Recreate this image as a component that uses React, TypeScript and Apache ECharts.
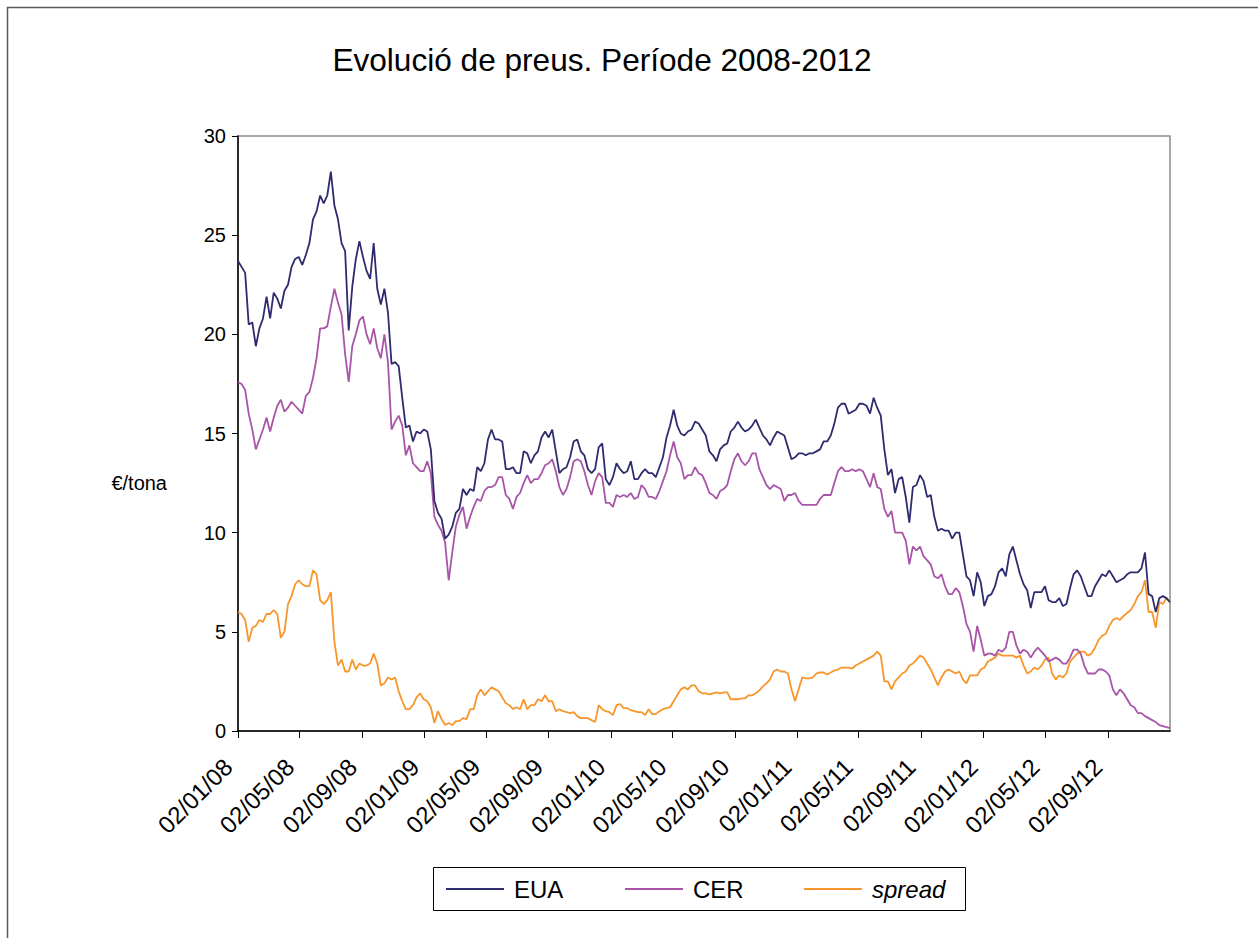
import React, { useEffect, useRef } from 'react';
import * as echarts from 'echarts';

// ---------- data ----------
const title = 'Evolució de preus. Període 2008-2012';
const yAxisName = '€/tona';
const seriesNames = ['EUA', 'CER', 'spread'];
const startDate = '02/01/08';
const stepDays = 7; // one reading per week from the start date
const axisEndDate = '02/01/13';
const tickLabels = [
  '02/01/08', '02/05/08', '02/09/08', '02/01/09', '02/05/09', '02/09/09', '02/01/10', '02/05/10',
  '02/09/10', '02/01/11', '02/05/11', '02/09/11', '02/01/12', '02/05/12', '02/09/12',
];
const yTicks = [0, 5, 10, 15, 20, 25, 30];

const eua = [
  23.7, 23.4, 23.1, 20.5, 20.6, 19.4, 20.3, 20.8, 21.9, 20.8,
  22.1, 21.8, 21.3, 22.2, 22.5, 23.4, 23.8, 23.9, 23.5, 24.0,
  24.6, 25.8, 26.2, 27.0, 26.6, 27.0, 28.2, 26.5, 25.8, 24.6,
  24.2, 20.2, 22.4, 23.8, 24.7, 23.9, 23.2, 22.8, 24.6, 22.3,
  21.5, 22.3, 21.1, 18.5, 18.6, 18.4, 16.8, 15.3, 15.4, 14.6,
  15.1, 15.0, 15.2, 15.1, 14.2, 11.6, 11.0, 10.7, 9.7, 9.9,
  10.3, 11.0, 11.2, 12.2, 11.9, 12.2, 12.1, 13.3, 13.1, 13.5,
  14.7, 15.2, 14.7, 14.7, 14.6, 13.2, 13.2, 13.3, 13.0, 13.0,
  14.1, 14.0, 13.5, 13.9, 14.1, 14.8, 15.1, 14.8, 15.2, 14.1,
  13.0, 13.2, 13.3, 13.8, 14.6, 14.7, 14.1, 13.9, 13.2, 13.0,
  13.2, 14.3, 14.5, 12.7, 12.4, 12.8, 13.5, 13.2, 13.0, 13.1,
  13.6, 12.7, 12.7, 13.0, 13.2, 13.0, 13.0, 12.8, 13.3, 13.8,
  14.8, 15.4, 16.2, 15.4, 15.0, 14.9, 15.1, 15.2, 15.6, 15.5,
  15.2, 14.9, 14.1, 13.9, 13.6, 14.2, 14.4, 14.5, 15.1, 15.3,
  15.6, 15.3, 15.1, 15.2, 15.4, 15.7, 15.3, 14.9, 14.7, 14.4,
  14.8, 15.1, 15.0, 14.9, 14.3, 13.7, 13.8, 14.0, 14.0, 13.9,
  14.0, 14.0, 14.1, 14.2, 14.6, 14.6, 14.9, 15.5, 16.3, 16.5,
  16.5, 16.0, 16.1, 16.2, 16.5, 16.5, 16.4, 16.0, 16.8, 16.3,
  15.9, 14.2, 12.9, 13.2, 12.0, 12.7, 12.8, 11.8, 10.5, 12.3,
  12.4, 12.9, 12.6, 11.8, 11.9, 10.8, 10.1, 10.2, 10.1, 10.1,
  9.7, 10.0, 10.0, 8.9, 7.8, 7.6, 6.8, 8.0, 7.5, 6.3,
  6.8, 6.9, 7.3, 8.0, 8.2, 7.8, 8.9, 9.3, 8.6, 7.9,
  7.4, 7.1, 6.2, 7.0, 7.0, 7.0, 7.3, 6.6, 6.5, 6.5,
  6.7, 6.3, 6.4, 7.2, 7.9, 8.1, 7.8, 7.3, 6.8, 6.8,
  7.3, 7.6, 7.9, 7.8, 8.1, 7.8, 7.5, 7.6, 7.7, 7.9,
  8.0, 8.0, 8.0, 8.2, 9.0, 6.9, 6.8, 6.0, 6.7, 6.8,
  6.7, 6.5,
];

const cer = [
  17.6, 17.5, 17.2, 16.0, 15.2, 14.2, 14.7, 15.2, 15.8, 15.1,
  15.8, 16.4, 16.7, 16.1, 16.3, 16.6, 16.4, 16.2, 16.0, 16.9,
  17.1, 17.8, 18.8, 20.3, 20.3, 20.4, 21.4, 22.3, 21.6, 21.0,
  19.0, 17.6, 19.4, 20.0, 20.7, 20.9, 20.0, 19.5, 20.3, 19.3,
  18.8, 20.0, 18.6, 15.2, 15.6, 15.9, 15.4, 13.9, 14.4, 13.5,
  13.3, 13.1, 13.1, 13.6, 13.0, 10.8, 10.4, 10.1, 9.5, 7.6,
  9.0, 10.3, 10.9, 11.3, 10.2, 10.8, 11.3, 11.7, 11.6, 12.1,
  12.3, 12.3, 12.4, 12.8, 12.8, 11.9, 11.7, 11.2, 11.8, 12.0,
  12.5, 12.9, 12.5, 12.7, 12.7, 13.0, 13.4, 13.5, 13.7, 13.1,
  12.3, 11.9, 12.2, 12.8, 13.6, 13.7, 13.6, 13.1, 12.4, 11.9,
  12.6, 13.0, 12.8, 11.5, 11.5, 11.3, 11.9, 11.8, 11.9, 11.8,
  12.0, 11.7, 11.8, 12.4, 12.2, 11.8, 11.8, 11.7, 12.1, 12.6,
  13.1, 13.9, 14.6, 13.8, 13.5, 12.7, 12.9, 12.9, 13.3, 13.0,
  12.9, 12.5, 12.0, 11.9, 11.7, 12.1, 12.2, 12.4, 13.1, 13.7,
  14.0, 13.6, 13.4, 13.6, 14.0, 14.0, 13.2, 12.8, 12.4, 12.2,
  12.4, 12.3, 12.2, 11.6, 11.9, 11.9, 12.0, 11.6, 11.4, 11.4,
  11.4, 11.4, 11.4, 11.7, 11.9, 11.9, 11.9, 12.5, 13.1, 13.3,
  13.1, 13.1, 13.2, 13.1, 13.2, 13.1, 12.7, 12.3, 13.0, 12.3,
  12.2, 11.2, 10.8, 11.1, 10.0, 10.0, 10.0, 9.6, 8.4, 9.3,
  9.1, 9.3, 8.8, 8.6, 8.4, 7.8, 7.7, 7.9, 7.3, 6.9,
  6.9, 7.2, 7.0, 6.3, 5.4, 5.0, 4.0, 5.3, 4.6, 3.8,
  3.9, 3.9, 3.8, 4.1, 4.0, 4.2, 5.0, 5.0, 4.3, 3.9,
  4.1, 4.0, 3.7, 4.0, 4.2, 4.0, 3.8, 3.5, 3.6, 3.7,
  3.6, 3.4, 3.4, 3.7, 4.1, 4.1, 3.9, 3.3, 2.9, 2.9,
  2.9, 3.1, 3.1, 3.0, 2.8, 2.1, 1.8, 2.1, 1.9, 1.6,
  1.3, 1.2, 0.9, 0.9, 0.75, 0.65, 0.55, 0.45, 0.3, 0.25,
  0.2, 0.15,
];

const spread = [
  6.0, 5.9, 5.6, 4.5, 5.2, 5.3, 5.6, 5.5, 5.9, 5.9,
  6.1, 5.9, 4.7, 5.0, 6.4, 6.8, 7.4, 7.6, 7.4, 7.3,
  7.3, 8.1, 7.9, 6.6, 6.4, 6.6, 7.0, 4.5, 3.3, 3.6,
  3.0, 3.0, 3.6, 3.1, 3.4, 3.3, 3.3, 3.4, 3.9, 3.4,
  2.3, 2.4, 2.7, 2.6, 2.7, 2.0, 1.5, 1.1, 1.1, 1.3,
  1.7, 1.9, 1.6, 1.5, 1.2, 0.4, 1.0, 0.6, 0.3, 0.4,
  0.3, 0.5, 0.5, 0.65, 0.6, 1.1, 1.1, 1.8, 2.1, 1.8,
  2.0, 2.2, 2.1, 2.0, 1.7, 1.4, 1.3, 1.1, 1.2, 1.1,
  1.6, 1.1, 1.3, 1.3, 1.6, 1.5, 1.8, 1.5, 1.5, 1.0,
  1.1, 1.0, 0.95, 0.9, 0.95, 0.75, 0.65, 0.65, 0.65, 0.55,
  0.45, 1.3, 1.1, 1.0, 0.95, 0.8, 1.3, 1.35, 1.15, 1.15,
  1.05, 1.0, 0.95, 0.95, 0.8, 1.1, 0.85, 0.85, 1.0, 1.1,
  1.15, 1.2, 1.5, 1.8, 2.1, 2.2, 2.1, 2.3, 2.3, 2.0,
  1.9, 1.9, 1.85, 1.9, 1.95, 1.9, 1.95, 1.95, 1.6, 1.6,
  1.6, 1.65, 1.65, 1.8, 1.8, 1.9, 2.05, 2.25, 2.4, 2.6,
  3.0, 3.1, 3.0, 3.0, 2.9, 2.1, 1.5, 2.1, 2.7, 2.65,
  2.65, 2.7, 2.9, 2.95, 2.95, 2.85, 2.95, 3.05, 3.1, 3.2,
  3.2, 3.2, 3.15, 3.3, 3.4, 3.5, 3.6, 3.7, 3.8, 4.0,
  3.8, 2.5, 2.5, 2.1, 2.5, 2.7, 2.9, 3.0, 3.3, 3.4,
  3.6, 3.8, 3.7, 3.4, 3.1, 2.7, 2.3, 2.7, 3.0, 3.1,
  3.0, 2.9, 3.0, 2.6, 2.4, 2.8, 2.8, 2.8, 3.1, 3.2,
  3.5, 3.6, 3.7, 3.9, 3.8, 3.8, 3.8, 3.8, 3.7, 3.8,
  3.3, 2.9, 3.0, 3.2, 3.1, 3.3, 3.6, 3.7, 2.9, 2.6,
  2.8, 2.7, 2.9, 3.5, 3.7, 3.9, 4.0, 4.0, 3.8, 3.9,
  4.2, 4.6, 4.8, 4.9, 5.3, 5.6, 5.7, 5.6, 5.8, 5.95,
  6.1, 6.4, 6.8, 7.0, 7.6, 6.0, 6.0, 5.2, 6.5, 6.4,
  6.7, 6.5,
];

// ---------- helpers ----------
const DAY_MS = 86400000;
function parseDMY(s: string): number {
  const [d, m, y] = s.split('/').map(Number);
  return Date.UTC(2000 + y, m - 1, d);
}
const t0 = parseDMY(startDate);
const dayOffset = (s: string) => Math.round((parseDMY(s) - t0) / DAY_MS);
const tickDays = tickLabels.map(dayOffset);
const axisMaxDays = dayOffset(axisEndDate);
const toPairs = (vals: number[]) => vals.map((v, i) => [i * stepDays, v]);

const FONT = '"Liberation Sans", Arial, Helvetica, sans-serif';
const colors = ['#2E2B6E', '#A855A8', '#F7962A'];

export default function App() {
  const ref = useRef<HTMLDivElement>(null);

  useEffect(() => {
    if (!ref.current) return;
    const chart = echarts.init(ref.current, null, { renderer: 'svg' });

    const legendX = [446, 625, 804];
    const legendLineLen = 58;
    const legendY = 889;
    const legendGraphics: any[] = [
      {
        type: 'rect',
        shape: { x: 433.5, y: 867.5, width: 532, height: 43 },
        style: { fill: '#fff', stroke: '#000', lineWidth: 1 },
        z: 10,
      },
    ];
    seriesNames.forEach((name, k) => {
      legendGraphics.push({
        type: 'line',
        shape: { x1: legendX[k], y1: legendY, x2: legendX[k] + legendLineLen, y2: legendY },
        style: { stroke: colors[k], lineWidth: 1.8 },
        z: 11,
      });
      legendGraphics.push({
        type: 'text',
        x: legendX[k] + legendLineLen + 10,
        y: legendY,
        style: {
          text: name,
          fill: '#000',
          font: `${k === 2 ? 'italic ' : ''}24px ${FONT}`,
          verticalAlign: 'middle',
          align: 'left',
        },
        z: 11,
      });
    });

    const option: any = {
      animation: false,
      backgroundColor: '#ffffff',
      title: {
        text: title,
        left: 597,
        top: 39,
        textAlign: 'center',
        textStyle: { fontFamily: FONT, fontSize: 31.6, fontWeight: 'normal', color: '#000' },
      },
      grid: {
        left: 238,
        top: 136,
        width: 932,
        height: 595,
        show: true,
        borderColor: '#8c8c8c',
        borderWidth: 1.5,
        backgroundColor: 'transparent',
      },
      xAxis: {
        type: 'value',
        min: 0,
        max: axisMaxDays,
        axisLine: { show: true, onZero: false, lineStyle: { color: '#000', width: 1.5 } },
        axisTick: { show: true, length: 7, customValues: tickDays, lineStyle: { color: '#000', width: 1 } },
        splitLine: { show: false },
        axisLabel: {
          customValues: tickDays,
          rotate: 45,
          margin: 22,
          padding: [0, 14, 0, 0],
          fontFamily: FONT,
          fontSize: 24,
          color: '#000',
          formatter: (v: number) => {
            const idx = tickDays.indexOf(Math.round(v));
            return idx >= 0 ? tickLabels[idx] : '';
          },
        },
      },
      yAxis: {
        type: 'value',
        min: yTicks[0],
        max: yTicks[yTicks.length - 1],
        interval: yTicks[1] - yTicks[0],
        axisLine: { show: true, lineStyle: { color: '#000', width: 1.5 } },
        axisTick: { show: true, length: 6, lineStyle: { color: '#000', width: 1 } },
        splitLine: { show: false },
        axisLabel: { margin: 12, fontFamily: FONT, fontSize: 20, color: '#000' },
      },
      series: [eua, cer, spread].map((vals, k) => ({
        name: seriesNames[k],
        type: 'line',
        data: toPairs(vals),
        showSymbol: false,
        symbol: 'none',
        lineStyle: { color: colors[k], width: 1.8 },
        itemStyle: { color: colors[k] },
        z: 3 - k,
      })),
      graphic: [
        {
          type: 'rect',
          shape: { x: 7.5, y: 7.5, width: 1300, height: 1000 },
          style: { fill: 'none', stroke: '#5a5a5a', lineWidth: 1.5 },
          silent: true,
          z: 0,
        },
        {
          type: 'text',
          x: 167,
          y: 483,
          style: {
            text: yAxisName,
            fill: '#000',
            font: `20px ${FONT}`,
            align: 'right',
            verticalAlign: 'middle',
          },
        },
        ...legendGraphics,
      ],
    };

    chart.setOption(option);
    return () => chart.dispose();
  }, []);

  return (
    <div
      ref={ref}
      style={{ position: 'absolute', left: 0, top: 0, width: 1258, height: 938, background: '#fff' }}
    />
  );
}
